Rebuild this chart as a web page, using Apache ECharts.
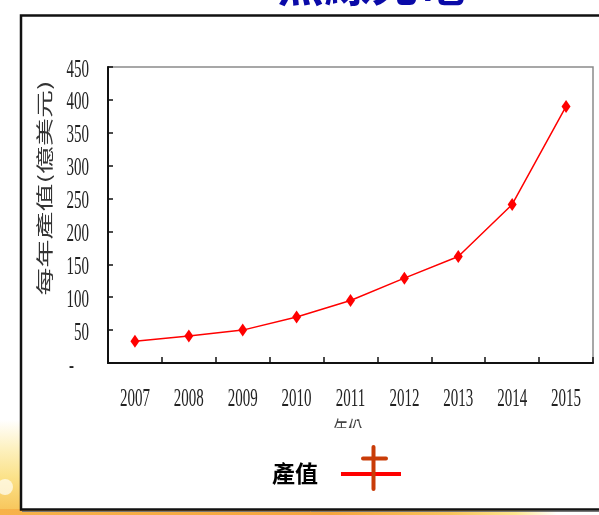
<!DOCTYPE html>
<html>
<head>
<meta charset="utf-8">
<script src="https://cdn.jsdelivr.net/npm/echarts@6/dist/echarts.min.js"></script>
<style>
  html, body { margin: 0; padding: 0; background: #ffffff; }
  #chart { width: 599px; height: 515px; }
</style>
</head>
<body>
<div id="chart"></div>
<script>
// Yearly output value, in hundreds of millions of US dollars
const years = ['2007', '2008', '2009', '2010', '2011', '2012', '2013', '2014', '2015'];
const outputValues = [33, 41, 50, 70, 95, 129, 162, 241, 390];
const yTickValues = [0, 50, 100, 150, 200, 250, 300, 350, 400, 450];
const yTickLabels = ['-\u2003', '50', '100', '150', '200', '250', '300', '350', '400', '450'];

const titleText = '無線充電';
const yAxisTitle = '每年產值(億美元)';
const xAxisTitle = '年份';
const seriesName = '產值';

const digitFont = '25px "Liberation Serif", "Times New Roman", serif';
const squeeze = 0.6;

const chart = echarts.init(document.getElementById('chart'), null, { renderer: 'canvas' });

const option = {
  animation: false,
  backgroundColor: '#ffffff',
  grid: {
    left: 108, right: 6, top: 67, bottom: 152,
    show: true, borderColor: '#8a8a8a', borderWidth: 1.5, backgroundColor: 'transparent'
  },
  xAxis: {
    type: 'category',
    data: years,
    boundaryGap: true,
    axisLine: { show: true, lineStyle: { color: '#111', width: 2 } },
    axisTick: { show: true, inside: true, length: 6, interval: 0, lineStyle: { color: '#111', width: 1.5 } },
    axisLabel: { show: false },
    splitLine: { show: false }
  },
  yAxis: {
    type: 'value',
    min: 0, max: 450, interval: 50,
    axisLine: { show: true, lineStyle: { color: '#111', width: 2 } },
    axisTick: { show: true, inside: true, length: 5, lineStyle: { color: '#111', width: 1.5 } },
    axisLabel: { show: false },
    splitLine: { show: false }
  },
  graphic: [
    // slide background glow at the lower left and under the frame
    {
      type: 'rect', z: -20, silent: true,
      shape: { x: 0, y: 420, width: 22, height: 95 },
      style: {
        fill: new echarts.graphic.LinearGradient(0, 0, 0, 1, [
          { offset: 0, color: '#ffffff' },
          { offset: 0.3, color: '#fdf1c0' },
          { offset: 0.6, color: '#fbe28a' },
          { offset: 1, color: '#f7c255' }
        ])
      }
    },
    {
      type: 'circle', z: -19, silent: true,
      shape: { cx: 5, cy: 487, r: 8 },
      style: { fill: 'rgba(255,255,248,0.7)' }
    },
    {
      type: 'rect', z: -20, silent: true,
      shape: { x: 0, y: 509, width: 599, height: 6 },
      style: {
        fill: new echarts.graphic.LinearGradient(0, 0, 1, 0, [
          { offset: 0, color: '#f7b24a' },
          { offset: 0.55, color: '#f5a53d' },
          { offset: 0.75, color: '#f8c35a' },
          { offset: 0.86, color: '#fde68e' },
          { offset: 0.93, color: '#ffffff' },
          { offset: 1, color: '#ffffff' }
        ])
      }
    },
    // slide frame
    {
      type: 'rect', z: -15, silent: true,
      shape: { x: 21, y: 15.5, width: 640, height: 494 },
      style: { fill: '#ffffff', stroke: '#111111', lineWidth: 2.5 }
    },
    {
      type: 'line', z: -14, silent: true,
      shape: { x1: 22, y1: 511.5, x2: 599, y2: 511.5 },
      style: { stroke: '#777', lineWidth: 1 }
    },
    // slide heading (clipped by the top edge)
    {
      type: 'text', z: 10, silent: true,
      x: 371, y: 7,
      style: {
        text: titleText,
        font: 'bold 47px "Noto Sans CJK TC", sans-serif',
        fill: '#0a0aa8',
        align: 'center',
        verticalAlign: 'bottom'
      }
    },
    // value axis title
    {
      type: 'text', z: 10, silent: true,
      x: 45, y: 188, rotation: Math.PI / 2, scaleY: 0.6,
      style: {
        text: yAxisTitle,
        font: '28px "Noto Sans CJK TC", sans-serif',
        fill: '#333',
        align: 'center',
        verticalAlign: 'middle'
      }
    },
    // category axis title
    {
      type: 'text', z: 10, silent: true,
      x: 348, y: 418, scaleX: squeeze,
      style: {
        text: xAxisTitle,
        font: '24px "Noto Sans CJK TC", sans-serif',
        fill: '#444',
        align: 'center',
        verticalAlign: 'top'
      }
    },
    {
      type: 'rect', z: 20, silent: true,
      shape: { x: 300, y: 428, width: 100, height: 16 },
      style: { fill: '#ffffff' }
    },
    // legend
    {
      type: 'text', z: 30, silent: true,
      x: 295, y: 473,
      style: {
        text: seriesName,
        font: 'bold 23px "Noto Sans CJK TC", sans-serif',
        fill: '#000',
        align: 'center',
        verticalAlign: 'middle'
      }
    },
    {
      type: 'line', z: 30, silent: true,
      shape: { x1: 341, y1: 474, x2: 401, y2: 474 },
      style: { stroke: '#ff0000', lineWidth: 4 }
    },
    {
      type: 'line', z: 31, silent: true,
      shape: { x1: 373.5, y1: 447, x2: 373.5, y2: 489 },
      style: { stroke: '#c93c08', lineWidth: 4, lineCap: 'round' }
    },
    {
      type: 'line', z: 31, silent: true,
      shape: { x1: 363, y1: 458.5, x2: 386, y2: 458.5 },
      style: { stroke: '#c93c08', lineWidth: 4, lineCap: 'round' }
    }
  ],
  series: [
    {
      name: seriesName,
      type: 'line',
      data: outputValues,
      symbol: 'diamond',
      symbolSize: [9, 13],
      itemStyle: { color: '#ff0000' },
      lineStyle: { color: '#ff0000', width: 1.5 },
      z: 5
    },
    // year labels under the category axis, horizontally condensed
    {
      type: 'custom',
      silent: true,
      clip: false,
      data: years.map((y, i) => [i, 0]),
      renderItem: function (params, api) {
        const i = api.value(0);
        const p = api.coord([i, 0]);
        return {
          type: 'text',
          x: p[0], y: p[1] + 36,
          scaleX: squeeze,
          style: {
            text: years[i],
            font: digitFont,
            fill: '#222',
            align: 'center',
            verticalAlign: 'middle'
          }
        };
      }
    },
    // value labels beside the value axis, horizontally condensed
    {
      type: 'custom',
      silent: true,
      clip: false,
      data: yTickValues.map((v, i) => [0, v, i]),
      renderItem: function (params, api) {
        const v = api.value(1);
        const idx = api.value(2);
        const p = api.coord([0, v]);
        const band = api.size([1, 0])[0];
        return {
          type: 'text',
          x: p[0] - band / 2 - 19, y: p[1] + 3,
          scaleX: squeeze,
          style: {
            text: yTickLabels[idx],
            font: digitFont,
            fill: '#222',
            align: 'right',
            verticalAlign: 'middle'
          }
        };
      }
    }
  ]
};

chart.setOption(option);
</script>
</body>
</html>
